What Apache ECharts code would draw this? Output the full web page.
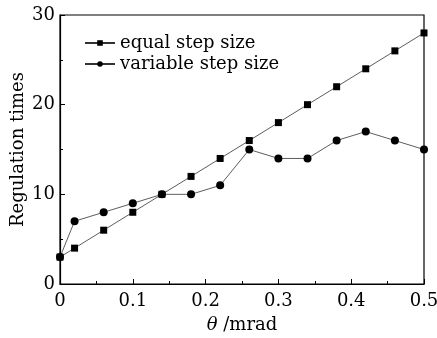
<!DOCTYPE html>
<html>
<head>
<meta charset="utf-8">
<script src="https://cdn.jsdelivr.net/npm/echarts@6/dist/echarts.min.js"></script>
<style>
  html, body { margin: 0; padding: 0; background: #fff; }
  #chart { width: 437px; height: 338px; }
</style>
</head>
<body>
<div id="chart"></div>
<script>
// 横坐标 theta (mrad)
const theta = [0, 0.02, 0.06, 0.1, 0.14, 0.18, 0.22, 0.26, 0.3, 0.34, 0.38, 0.42, 0.46, 0.5]
// 等步长
const equalStep = [3, 4, 6, 8, 10, 12, 14, 16, 18, 20, 22, 24, 26, 28]
// 变步长
const variableStep = [3, 7, 8, 9, 10, 10, 11, 15, 14, 14, 16, 17, 16, 15]

const font = 'DejaVu Serif'
const chart = echarts.init(document.getElementById('chart'))

function pairs(ys) {
  return theta.map((x, i) => [x, ys[i]])
}

const axisCommon = {
  axisLine: { show: true, lineStyle: { color: '#000', width: 1.2 } },
  axisTick: { show: true, inside: true, length: 5, lineStyle: { color: '#000' } },
  minorTick: { show: true, splitNumber: 2, length: 3, lineStyle: { color: '#000' } },
  splitLine: { show: false },
  axisLabel: { color: '#000', fontFamily: font, fontSize: 18 }
}

const option = {
  animation: false,
  grid: {
    left: 60, right: 13, top: 15, bottom: 54,
    outerBoundsMode: 'none',
    show: true, borderColor: '#000', borderWidth: 1.2
  },
  legend: {
    left: 79, top: 29, orient: 'vertical',
    itemWidth: 30, itemHeight: 7, itemGap: 3,
    textStyle: { color: '#000', fontFamily: font, fontSize: 18 },
    data: ['equal step size', 'variable step size']
  },
  xAxis: Object.assign({}, axisCommon, {
    type: 'value', min: 0, max: 0.5, interval: 0.1,
    name: '{i|θ} /mrad', nameLocation: 'middle', nameGap: 32,
    nameMoveOverlap: false,
    nameTextStyle: {
      color: '#000', fontFamily: font, fontSize: 18,
      rich: { i: { fontStyle: 'italic', fontFamily: font, fontSize: 18 } }
    },
    axisLabel: Object.assign({}, axisCommon.axisLabel, {
      margin: 8,
      formatter: v => v === 0 ? '0' : String(v)
    })
  }),
  yAxis: Object.assign({}, axisCommon, {
    type: 'value', min: 0, max: 30, interval: 10,
    name: 'Regulation times', nameLocation: 'middle', nameGap: 33,
    nameMoveOverlap: false,
    nameTextStyle: { color: '#000', fontFamily: font, fontSize: 18 },
    axisLabel: Object.assign({}, axisCommon.axisLabel, { margin: 5 })
  }),
  series: [
    {
      name: 'equal step size', type: 'line', data: pairs(equalStep),
      symbol: 'rect', symbolSize: 7,
      lineStyle: { color: '#333', width: 0.8 },
      itemStyle: { color: '#000' }
    },
    {
      name: 'variable step size', type: 'line', data: pairs(variableStep),
      symbol: 'circle', symbolSize: 8,
      lineStyle: { color: '#333', width: 0.8 },
      itemStyle: { color: '#000' }
    }
  ]
}
chart.setOption(option)
</script>
</body>
</html>
